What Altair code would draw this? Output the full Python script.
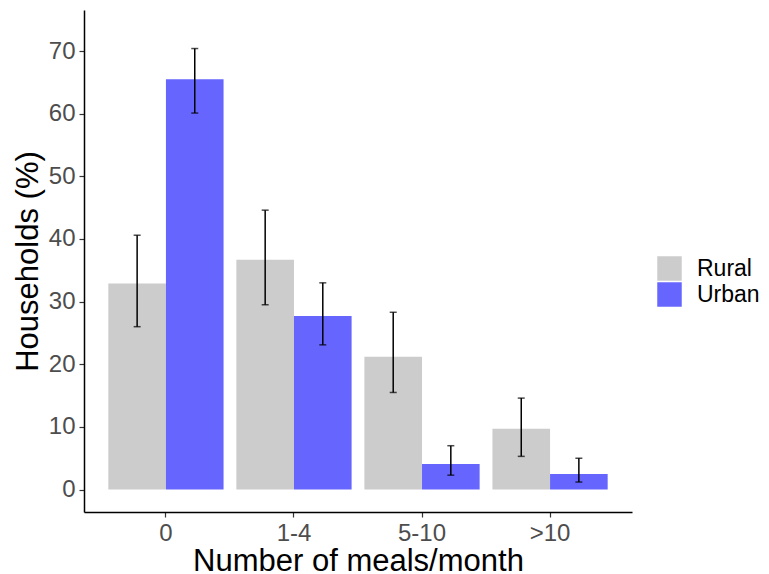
import altair as alt
import pandas as pd

categories = ["0", "1-4", "5-10", ">10"]
groups = ["Rural", "Urban"]
rural = [32.9, 36.7, 21.2, 9.7]
rural_lo = [26.0, 29.5, 15.5, 5.3]
rural_hi = [40.6, 44.6, 28.3, 14.6]
urban = [65.5, 27.7, 4.1, 2.5]
urban_lo = [60.1, 23.1, 2.3, 1.2]
urban_hi = [70.4, 33.0, 7.0, 5.0]

rows = []
for i, c in enumerate(categories):
    rows.append({"cat": c, "grp": "Rural", "val": rural[i], "lo": rural_lo[i], "hi": rural_hi[i]})
    rows.append({"cat": c, "grp": "Urban", "val": urban[i], "lo": urban_lo[i], "hi": urban_hi[i]})
df = pd.DataFrame(rows)

FONT = "Liberation Sans"

x_enc = alt.X("cat:N", sort=categories,
              scale=alt.Scale(paddingInner=0.1, paddingOuter=0.19),
              axis=alt.Axis(title="Number of meals/month", labelAngle=0))
xo_enc = alt.XOffset("grp:N", sort=groups, scale=alt.Scale(paddingInner=0, paddingOuter=0))
y_scale = alt.Scale(domain=[-3.58, 76.55], nice=False, zero=False)

bars = alt.Chart(df).mark_bar(strokeWidth=0).encode(
    x=x_enc,
    xOffset=xo_enc,
    y=alt.Y("val:Q", scale=y_scale,
            axis=alt.Axis(title="Households (%)", values=[0, 10, 20, 30, 40, 50, 60, 70])),
    y2=alt.datum(0),
    color=alt.Color("grp:N", sort=groups,
                    scale=alt.Scale(domain=groups, range=["#cccccc", "#6666ff"]),
                    legend=alt.Legend(title=None, orient="none", legendX=573, legendY=246,
                                      symbolType="square", symbolSize=600,
                                      symbolStrokeWidth=0, symbolOpacity=1,
                                      labelFontSize=23, labelFont=FONT, labelColor="black",
                                      labelOffset=15, rowPadding=1, padding=0)),
)

rules = alt.Chart(df).mark_rule(color="black", strokeWidth=1.5).encode(
    x=x_enc, xOffset=xo_enc,
    y=alt.Y("lo:Q", scale=y_scale), y2="hi:Q",
)
caps_lo = alt.Chart(df).mark_tick(color="black", size=7, thickness=1.5).encode(
    x=x_enc, xOffset=xo_enc, y=alt.Y("lo:Q", scale=y_scale),
)
caps_hi = alt.Chart(df).mark_tick(color="black", size=7, thickness=1.5).encode(
    x=x_enc, xOffset=xo_enc, y=alt.Y("hi:Q", scale=y_scale),
)

chart = alt.layer(bars, rules, caps_lo, caps_hi).properties(
    width=548, height=502,
    autosize=alt.AutoSizeParams(type="none"),
    padding={"left": 76, "top": 2, "right": 129, "bottom": 60},
).configure_view(stroke=None).configure_axis(
    grid=False,
    domainColor="black", domainWidth=1.5,
    tickColor="#333333", tickSize=5, tickWidth=1.2,
    labelFont=FONT, labelFontSize=24, labelColor="#4d4d4d", labelPadding=4,
    titleFont=FONT, titleFontSize=31, titleColor="black", titleFontWeight="normal",
).configure_axisY(titlePadding=4).configure_axisX(titlePadding=1, domainWidth=1.5)

chart.save("out.html", embed_options={"renderer": "svg", "actions": False})
